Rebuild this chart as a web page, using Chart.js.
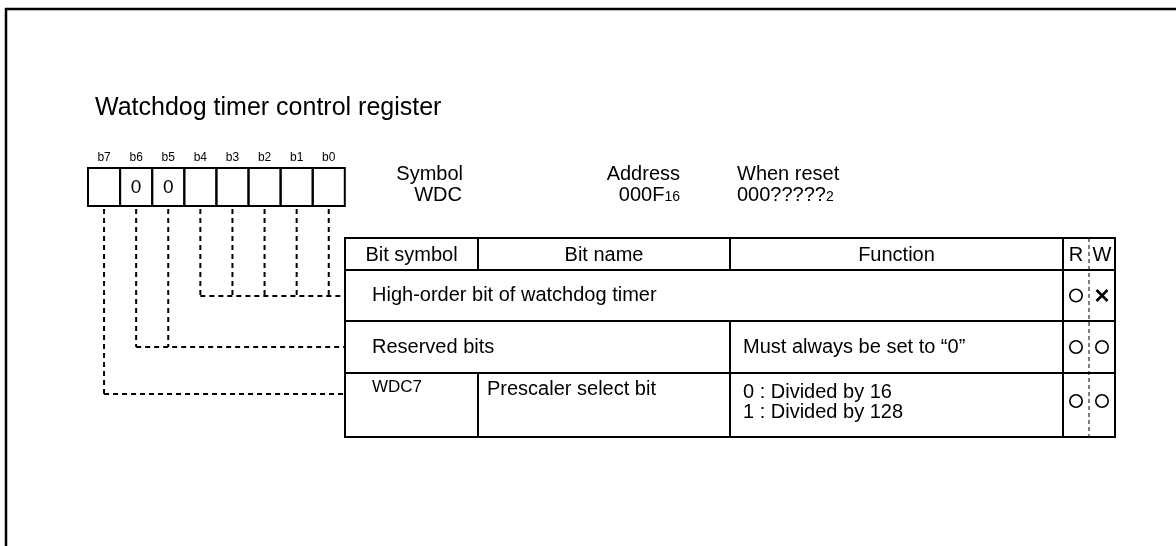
<!DOCTYPE html>
<html>
<head>
<meta charset="utf-8">
<script src="https://cdn.jsdelivr.net/npm/chart.js@4.4.0/dist/chart.umd.min.js"></script>
<style>
  html, body { margin: 0; padding: 0; background: #fff; }
  #wrap { width: 1176px; height: 546px; position: relative; }
</style>
</head>
<body>
<div id="wrap"><canvas id="regChart"></canvas></div>
<script>
// Dados do registrador
const registerTitle = "Watchdog timer control register";
const bitLabels = ["b7", "b6", "b5", "b4", "b3", "b2", "b1", "b0"];
const bitValues = ["", "0", "0", "", "", "", "", ""];
const symbolInfo = ["Symbol", "WDC"];
const addressInfo = ["Address", "000F", "16"];
const resetInfo = ["When reset", "000?????", "2"];

// Dados da tabela
const headers = ["Bit symbol", "Bit name", "Function", "R", "W"];
const rowSymbols = ["", "", "WDC7"];
const rowNames = ["High-order bit of watchdog timer", "Reserved bits", "Prescaler select bit"];
const rowFunctions = [[], ["Must always be set to \u201c0\u201d"], ["0 : Divided by 16", "1 : Divided by 128"]];
const rowRead = ["O", "O", "O"];
const rowWrite = ["X", "O", "O"];
const rowBits = [[4, 3, 2, 1, 0], [6, 5], [7]];

// Layout (unidades da escala = pixels)
const box = { left: 88, top: 168, bottom: 206, cell: 32.1 };
const tbl = { left: 345, top: 238, cols: [345, 478, 730, 1063, 1089, 1115], rows: [238, 270, 321, 373, 437] };
const joinY = [296, 347, 394];
const FONT = "'Liberation Sans', Arial, sans-serif";

function bitCenter(i) { return box.left + box.cell * (i + 0.5); }

// Linhas tracejadas de ligação como datasets
const connectorSets = rowBits.map((bits, r) => {
    const pts = [];
    bits.forEach(b => {
        const idx = bitLabels.indexOf("b" + b);
        pts.push({ x: bitCenter(idx), y: box.bottom + 3 });
        pts.push({ x: bitCenter(idx), y: joinY[r] });
        pts.push({ x: NaN, y: NaN });
    });
    const first = bitLabels.indexOf("b" + bits[0]);
    pts.push({ x: bitCenter(first), y: joinY[r] });
    pts.push({ x: tbl.left, y: joinY[r] });
    return {
        type: "line",
        data: pts,
        borderColor: "#000",
        borderWidth: 2,
        borderDash: [5, 4],
        pointRadius: 0,
        spanGaps: false,
        fill: false
    };
});

const drawPlugin = {
    id: "registerDiagram",
    afterDatasetsDraw(chart) {
        const ctx = chart.ctx;
        const sx = v => chart.scales.x.getPixelForValue(v);
        const sy = v => chart.scales.y.getPixelForValue(v);
        ctx.save();
        ctx.strokeStyle = "#000";
        ctx.fillStyle = "#000";
        ctx.lineCap = "butt";

        // moldura
        ctx.lineWidth = 2.5;
        ctx.beginPath();
        ctx.moveTo(sx(6), sy(546));
        ctx.lineTo(sx(6), sy(9));
        ctx.lineTo(sx(1176), sy(9));
        ctx.stroke();

        // título
        ctx.textBaseline = "middle";
        ctx.textAlign = "left";
        ctx.font = "25px " + FONT;
        ctx.fillText(registerTitle, sx(95), sy(108));

        // caixas dos bits
        ctx.lineWidth = 2;
        bitLabels.forEach((lab, i) => {
            const x0 = box.left + box.cell * i;
            ctx.strokeRect(sx(x0), sy(box.top), box.cell, box.bottom - box.top);
            ctx.textAlign = "center";
            ctx.font = "12px " + FONT;
            ctx.fillText(lab, sx(bitCenter(i)), sy(158));
            if (bitValues[i]) {
                ctx.font = "19px " + FONT;
                ctx.fillText(bitValues[i], sx(bitCenter(i)), sy(188));
            }
        });

        // símbolo, endereço, reset
        ctx.font = "20px " + FONT;
        ctx.textAlign = "right";
        ctx.fillText(symbolInfo[0], sx(463), sy(174));
        ctx.fillText(symbolInfo[1], sx(462), sy(195));
        ctx.fillText(addressInfo[0], sx(680), sy(174));
        ctx.font = "14px " + FONT;
        const w16 = ctx.measureText(addressInfo[2]).width;
        ctx.fillText(addressInfo[2], sx(680), sy(197));
        ctx.font = "20px " + FONT;
        ctx.fillText(addressInfo[1], sx(680 - w16), sy(195));
        ctx.textAlign = "left";
        ctx.fillText(resetInfo[0], sx(737), sy(174));
        ctx.fillText(resetInfo[1], sx(737), sy(195));
        const wr = ctx.measureText(resetInfo[1]).width;
        ctx.font = "14px " + FONT;
        ctx.fillText(resetInfo[2], sx(737 + wr), sy(197));

        // tabela
        const c = tbl.cols, r = tbl.rows;
        ctx.lineWidth = 2;
        ctx.strokeRect(sx(c[0]), sy(r[0]), c[5] - c[0], r[4] - r[0]);
        ctx.beginPath();
        for (let k = 1; k < 4; k++) { ctx.moveTo(sx(c[0]), sy(r[k])); ctx.lineTo(sx(c[5]), sy(r[k])); }
        // verticais
        ctx.moveTo(sx(c[1]), sy(r[0])); ctx.lineTo(sx(c[1]), sy(r[1]));
        ctx.moveTo(sx(c[1]), sy(r[3])); ctx.lineTo(sx(c[1]), sy(r[4]));
        ctx.moveTo(sx(c[2]), sy(r[0])); ctx.lineTo(sx(c[2]), sy(r[1]));
        ctx.moveTo(sx(c[2]), sy(r[2])); ctx.lineTo(sx(c[2]), sy(r[4]));
        ctx.moveTo(sx(c[3]), sy(r[0])); ctx.lineTo(sx(c[3]), sy(r[4]));
        ctx.stroke();
        ctx.lineWidth = 1;
        ctx.setLineDash([4, 3]);
        ctx.beginPath();
        ctx.moveTo(sx(c[4]), sy(r[0])); ctx.lineTo(sx(c[4]), sy(r[4]));
        ctx.stroke();
        ctx.setLineDash([]);

        // cabeçalho
        ctx.font = "20px " + FONT;
        ctx.textAlign = "center";
        const hy = (r[0] + r[1]) / 2 + 1;
        headers.forEach((h, k) => {
            ctx.fillText(h, sx((c[k] + c[k + 1]) / 2), sy(hy));
        });

        // linhas
        ctx.textAlign = "left";
        rowNames.forEach((name, i) => {
            const mid = (r[i + 1] + r[i + 2]) / 2;
            if (rowSymbols[i]) {
                ctx.font = "17px " + FONT;
                ctx.fillText(rowSymbols[i], sx(372), sy(r[i + 1] + 14));
                ctx.font = "20px " + FONT;
                ctx.fillText(name, sx(487), sy(r[i + 1] + 16));
            } else {
                ctx.font = "20px " + FONT;
                ctx.fillText(name, sx(372), sy(mid));
            }
            const fn = rowFunctions[i];
            fn.forEach((t, j) => {
                const fy = fn.length > 1 ? r[i + 1] + 19 + j * 20 : mid;
                ctx.fillText(t, sx(743), sy(fy));
            });
            // R / W
            const marks = [rowRead[i], rowWrite[i]];
            marks.forEach((m, j) => {
                const cx = sx((c[3 + j] + c[4 + j]) / 2);
                const cy = sy(i === 2 ? mid - 4 : mid);
                if (m === "O") {
                    ctx.lineWidth = 1.6;
                    ctx.beginPath();
                    ctx.arc(cx, cy, 6.2, 0, Math.PI * 2);
                    ctx.stroke();
                } else {
                    ctx.lineWidth = 2.6;
                    ctx.beginPath();
                    ctx.moveTo(cx - 5.5, cy - 5.5); ctx.lineTo(cx + 5.5, cy + 5.5);
                    ctx.moveTo(cx + 5.5, cy - 5.5); ctx.lineTo(cx - 5.5, cy + 5.5);
                    ctx.stroke();
                }
            });
        });
        ctx.restore();
    }
};

const regConfig = {
    type: "scatter",
    data: { datasets: connectorSets },
    options: {
        responsive: true,
        maintainAspectRatio: false,
        animation: false,
        layout: { padding: 0 },
        plugins: { legend: { display: false }, tooltip: { enabled: false } },
        scales: {
            x: { type: "linear", min: 0, max: 1176, display: false },
            y: { type: "linear", min: 0, max: 546, reverse: true, display: false }
        }
    },
    plugins: [drawPlugin]
};

const regChart = new Chart(document.getElementById("regChart"), regConfig);
</script>
</body>
</html>
